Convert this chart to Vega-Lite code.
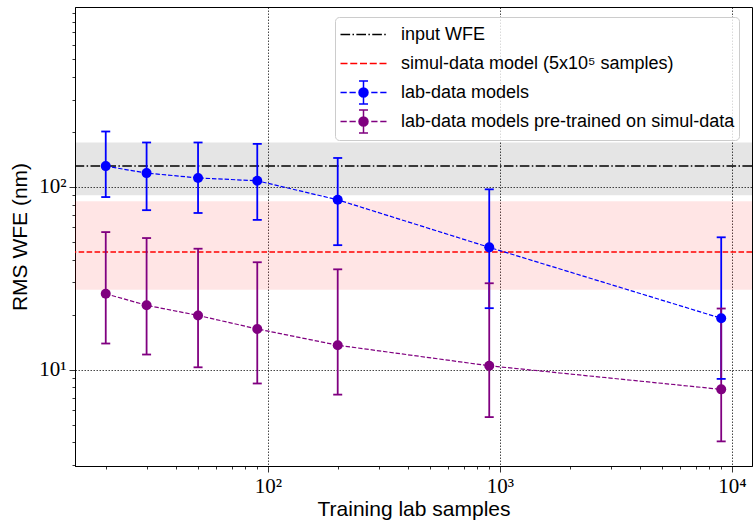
{
  "$schema": "https://vega.github.io/schema/vega-lite/v6.json",
  "width": 677,
  "height": 459,
  "autosize": {"type": "none"},
  "padding": {"left": 75, "top": 7, "right": 1, "bottom": 55},
  "background": "white",
  "datasets": {
    "pts": [
      {"series": "lab-data models", "n": 20, "y": 130, "lo": 88, "hi": 201},
      {"series": "lab-data models", "n": 30, "y": 119, "lo": 74.6, "hi": 175},
      {"series": "lab-data models", "n": 50, "y": 112, "lo": 72, "hi": 175},
      {"series": "lab-data models", "n": 90, "y": 108, "lo": 66, "hi": 172},
      {"series": "lab-data models", "n": 200, "y": 85, "lo": 48, "hi": 144},
      {"series": "lab-data models", "n": 900, "y": 46.7, "lo": 21.7, "hi": 97},
      {"series": "lab-data models", "n": 9000, "y": 19.1, "lo": 8.9, "hi": 53},
      {"series": "lab-data models pre-trained on simul-data", "n": 20, "y": 26, "lo": 13.9, "hi": 56.6},
      {"series": "lab-data models pre-trained on simul-data", "n": 30, "y": 22.5, "lo": 12.1, "hi": 52.5},
      {"series": "lab-data models pre-trained on simul-data", "n": 50, "y": 19.8, "lo": 10.3, "hi": 45.9},
      {"series": "lab-data models pre-trained on simul-data", "n": 90, "y": 16.7, "lo": 8.4, "hi": 38.7},
      {"series": "lab-data models pre-trained on simul-data", "n": 200, "y": 13.6, "lo": 7.3, "hi": 35.4},
      {"series": "lab-data models pre-trained on simul-data", "n": 900, "y": 10.5, "lo": 5.5, "hi": 29.7},
      {"series": "lab-data models pre-trained on simul-data", "n": 9000, "y": 7.8, "lo": 4.05, "hi": 21.6}
    ],
    "refs": [
      {"series": "input WFE", "y": 130, "lo": 90, "hi": 175},
      {"series": "simul-data model (5x10⁵ samples)", "y": 44, "lo": 27.4, "hi": 83.5}
    ]
  },
  "layer": [
    {
      "data": {"name": "refs"},
      "transform": [{"filter": "datum.series == 'input WFE'"}],
      "mark": {"type": "rect", "color": "black", "opacity": 0.1},
      "encoding": {
        "y": {"field": "lo", "type": "quantitative", "title": "RMS WFE (nm)", "scale": {"type": "log", "domain": [2.97, 965]}},
        "y2": {"field": "hi"}
      }
    },
    {
      "data": {"name": "refs"},
      "transform": [{"filter": "datum.series != 'input WFE'"}],
      "mark": {"type": "rect", "color": "red", "opacity": 0.1},
      "encoding": {
        "y": {"field": "lo", "type": "quantitative", "title": "RMS WFE (nm)", "scale": {"type": "log", "domain": [2.97, 965]}},
        "y2": {"field": "hi"}
      }
    },
    {
      "data": {"name": "refs"},
      "transform": [{"filter": "datum.series == 'input WFE'"}],
      "mark": {"type": "rule", "color": "black", "strokeWidth": 1.5, "strokeDash": [9.6, 2.4, 1.5, 2.4]},
      "encoding": {
        "y": {"field": "y", "type": "quantitative", "title": "RMS WFE (nm)", "scale": {"type": "log", "domain": [2.97, 965]}}
      }
    },
    {
      "data": {"name": "refs"},
      "transform": [{"filter": "datum.series != 'input WFE'"}],
      "mark": {"type": "rule", "color": "red", "strokeWidth": 1.5, "strokeDash": [5.55, 2.4]},
      "encoding": {
        "y": {"field": "y", "type": "quantitative", "title": "RMS WFE (nm)", "scale": {"type": "log", "domain": [2.97, 965]}}
      }
    },
    {
      "data": {"name": "pts"},
      "mark": {"type": "line", "strokeWidth": 1.2, "strokeDash": [4.4, 1.9]},
      "encoding": {
        "x": {
          "field": "n", "type": "quantitative", "title": "Training lab samples",
          "scale": {"type": "log", "domain": [14.74, 12218]},
          "axis": {
            "values": [20, 30, 40, 50, 60, 70, 80, 90, 100, 200, 300, 400, 500, 600, 700, 800, 900, 1000, 2000, 3000, 4000, 5000, 6000, 7000, 8000, 9000, 10000],
            "labelExpr": "datum.value == 100 ? '10²' : datum.value == 1000 ? '10³' : datum.value == 10000 ? '10⁴' : ''",
            "labelOverlap": false,
            "labelFlush": false,
            "labelPadding": 3,
            "titlePadding": 2,
            "tickSize": {"condition": {"test": "abs(log(datum.value)/LN10 - round(log(datum.value)/LN10)) < 0.001", "value": 6}, "value": 3},
            "gridOpacity": {"condition": {"test": "abs(log(datum.value)/LN10 - round(log(datum.value)/LN10)) < 0.001", "value": 0.9}, "value": 0}
          }
        },
        "y": {
          "field": "y", "type": "quantitative", "title": "RMS WFE (nm)",
          "scale": {"type": "log", "domain": [2.97, 965]},
          "axis": {
            "values": [3, 4, 5, 6, 7, 8, 9, 10, 20, 30, 40, 50, 60, 70, 80, 90, 100, 200, 300, 400, 500, 600, 700, 800, 900],
            "labelExpr": "datum.value == 10 ? '10¹' : datum.value == 100 ? '10²' : ''",
            "labelOverlap": false,
            "labelFlush": false,
            "labelPadding": 3,
            "titlePadding": 8,
            "tickSize": {"condition": {"test": "abs(log(datum.value)/LN10 - round(log(datum.value)/LN10)) < 0.001", "value": 6}, "value": 3},
            "gridOpacity": {"condition": {"test": "abs(log(datum.value)/LN10 - round(log(datum.value)/LN10)) < 0.001", "value": 0.9}, "value": 0}
          }
        },
        "detail": {"field": "series"},
        "color": {"condition": {"test": "datum.series == 'lab-data models'", "value": "blue"}, "value": "purple"}
      }
    },
    {
      "data": {"name": "pts"},
      "mark": {"type": "rule", "strokeWidth": 1.8},
      "encoding": {
        "x": {"field": "n", "type": "quantitative", "title": "Training lab samples", "scale": {"type": "log", "domain": [14.74, 12218]}},
        "y": {"field": "lo", "type": "quantitative", "title": "RMS WFE (nm)", "scale": {"type": "log", "domain": [2.97, 965]}},
        "y2": {"field": "hi"},
        "color": {"condition": {"test": "datum.series == 'lab-data models'", "value": "blue"}, "value": "purple"}
      }
    },
    {
      "data": {"name": "pts"},
      "mark": {"type": "tick", "orient": "horizontal", "size": 9, "thickness": 1.8, "opacity": 1},
      "encoding": {
        "x": {"field": "n", "type": "quantitative", "title": "Training lab samples", "scale": {"type": "log", "domain": [14.74, 12218]}},
        "y": {"field": "lo", "type": "quantitative", "title": "RMS WFE (nm)", "scale": {"type": "log", "domain": [2.97, 965]}},
        "color": {"condition": {"test": "datum.series == 'lab-data models'", "value": "blue"}, "value": "purple"}
      }
    },
    {
      "data": {"name": "pts"},
      "mark": {"type": "tick", "orient": "horizontal", "size": 9, "thickness": 1.8, "opacity": 1},
      "encoding": {
        "x": {"field": "n", "type": "quantitative", "title": "Training lab samples", "scale": {"type": "log", "domain": [14.74, 12218]}},
        "y": {"field": "hi", "type": "quantitative", "title": "RMS WFE (nm)", "scale": {"type": "log", "domain": [2.97, 965]}},
        "color": {"condition": {"test": "datum.series == 'lab-data models'", "value": "blue"}, "value": "purple"}
      }
    },
    {
      "data": {"name": "pts"},
      "mark": {"type": "point", "filled": true, "size": 100, "opacity": 1},
      "encoding": {
        "x": {"field": "n", "type": "quantitative", "title": "Training lab samples", "scale": {"type": "log", "domain": [14.74, 12218]}},
        "y": {"field": "y", "type": "quantitative", "title": "RMS WFE (nm)", "scale": {"type": "log", "domain": [2.97, 965]}},
        "color": {"condition": {"test": "datum.series == 'lab-data models'", "value": "blue"}, "value": "purple"}
      }
    },
    {
      "data": {"name": "pts"},
      "transform": [{"filter": "false"}],
      "mark": {"type": "point", "filled": false, "opacity": 1, "strokeWidth": 1.5},
      "encoding": {
        "x": {"field": "n", "type": "quantitative", "title": "Training lab samples", "scale": {"type": "log", "domain": [14.74, 12218]}},
        "y": {"field": "y", "type": "quantitative", "title": "RMS WFE (nm)", "scale": {"type": "log", "domain": [2.97, 965]}},
        "color": {
          "field": "series", "type": "nominal",
          "scale": {
            "domain": ["input WFE", "simul-data model (5x10⁵ samples)", "lab-data models", "lab-data models pre-trained on simul-data"],
            "range": ["black", "red", "blue", "purple"]
          },
          "legend": {"orient": "none", "legendX": 260, "legendY": 10, "title": null}
        },
        "shape": {
          "field": "series", "type": "nominal",
          "scale": {
            "domain": ["input WFE", "simul-data model (5x10⁵ samples)", "lab-data models", "lab-data models pre-trained on simul-data"],
            "range": [
              "M-1.84,0H-1.07M-0.88,0H-0.76M-0.57,0H0.2M0.39,0H0.51M0.7,0H1.47M1.66,0H1.78M0,-0.92h0.001M0,0.92h0.001",
              "M-1.84,0H-1.28M-1.06,0H-0.5M-0.28,0H0.28M0.5,0H1.06M1.28,0H1.84M0,-0.92h0.001M0,0.92h0.001",
              "M-1.84,0H-1.34M-1.12,0H-0.62M0.62,0H1.12M1.34,0H1.84M0,-0.92V0.92M-0.36,-0.92H0.36M-0.36,0.92H0.36M-0.06,0A0.06,0.06,0,1,0,0.06,0A0.06,0.06,0,1,0,-0.06,0ZM-0.16,0A0.16,0.16,0,1,0,0.16,0A0.16,0.16,0,1,0,-0.16,0ZM-0.26,0A0.26,0.26,0,1,0,0.26,0A0.26,0.26,0,1,0,-0.26,0ZM-0.36,0A0.36,0.36,0,1,0,0.36,0A0.36,0.36,0,1,0,-0.36,0Z",
              "M-1.84,0H-1.34M-1.12,0H-0.62M0.62,0H1.12M1.34,0H1.84M0,-0.92V0.92M-0.36,-0.92H0.36M-0.36,0.92H0.36M-0.06,0A0.06,0.06,0,1,0,0.06,0A0.06,0.06,0,1,0,-0.06,0ZM-0.16,0A0.16,0.16,0,1,0,0.16,0A0.16,0.16,0,1,0,-0.16,0ZM-0.26,0A0.26,0.26,0,1,0,0.26,0A0.26,0.26,0,1,0,-0.26,0ZM-0.36,0A0.36,0.36,0,1,0,0.36,0A0.36,0.36,0,1,0,-0.36,0Z"
            ]
          },
          "legend": {"orient": "none", "legendX": 260, "legendY": 10, "title": null}
        }
      }
    }
  ],
  "config": {
    "view": {"stroke": "black", "strokeWidth": 1},
    "axis": {
      "grid": true,
      "gridColor": "black",
      "gridDash": [1.5, 1.5],
      "gridWidth": 0.8,
      "domainColor": "black",
      "domainWidth": 1,
      "tickColor": "black",
      "tickWidth": 0.8,
      "labelFont": "Liberation Serif",
      "labelFontSize": 21,
      "labelColor": "black",
      "titleFont": "Liberation Sans",
      "titleFontSize": 21,
      "titleFontWeight": "normal",
      "titleColor": "black"
    },
    "legend": {
      "orient": "none",
      "legendX": 260,
      "legendY": 10,
      "padding": 4,
      "strokeColor": "#cccccc",
      "fillColor": "rgba(255,255,255,0.8)",
      "cornerRadius": 4,
      "labelFont": "Liberation Sans",
      "labelFontSize": 18,
      "labelColor": "black",
      "labelLimit": 500,
      "symbolSize": 625,
      "symbolStrokeWidth": 1.5,
      "symbolOffset": 11,
      "labelOffset": 24,
      "rowPadding": 0
    }
  }
}
